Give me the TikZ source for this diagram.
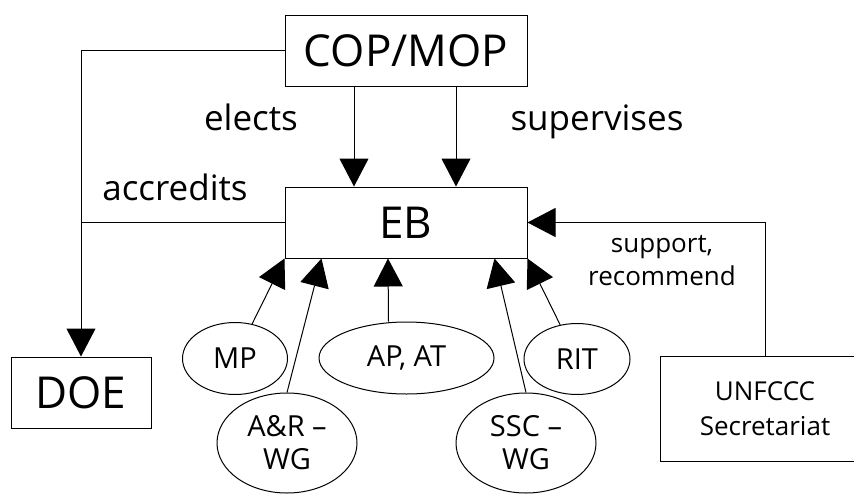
\documentclass[tikz,border=0pt]{standalone}
\usepackage{fontspec}
\setmainfont{Open Sans}
\usepackage{tikz}
\usetikzlibrary{shapes.geometric, arrows.meta, positioning}

\begin{document}
\begin{tikzpicture}[
    x=1pt, y=-1pt,
    box/.style={rectangle, draw, line width=1pt, inner sep=0pt, font=\fontsize{44}{50}\selectfont},
    smallbox/.style={rectangle, draw, line width=1pt, inner sep=0pt, align=center, font=\fontsize{26}{35}\selectfont},
    oval/.style={ellipse, draw, line width=1pt, inner sep=0pt, align=center, font=\fontsize{29}{33}\selectfont},
    lbl/.style={anchor=base, inner sep=0pt, font=\fontsize{35}{40}\selectfont},
    smalllbl/.style={anchor=base, inner sep=0pt, font=\fontsize{26}{33}\selectfont},
    arrow/.style={-{Triangle[length=28pt, width=29pt]}, line width=1pt},
    line/.style={line width=1pt}
]
\useasboundingbox (0,0) rectangle (854,493);

% Boxes
\node[box, minimum width=242pt, minimum height=71pt] (cop) at (406,50.5) {COP/MOP};
\node[box, minimum width=242pt, minimum height=71pt] (eb) at (406,222.5) {EB};
\node[box, minimum width=140pt, minimum height=71pt] (doe) at (81,392.5) {DOE};
\node[smallbox, minimum width=210pt, minimum height=105pt] (unfccc) at (765,408.5) {UNFCCC\\Secretariat};

% Panels
\node[oval, minimum width=105pt, minimum height=72pt] (mp) at (235,358.5) {MP};
\node[oval, minimum width=175pt, minimum height=72pt] (apat) at (406.5,358) {AP, AT};
\node[oval, minimum width=106pt, minimum height=71pt] (rit) at (577,359) {RIT};
\node[oval, minimum width=140pt, minimum height=100pt] (arwg) at (287,443) {A\&R --\\WG};
\node[oval, minimum width=140pt, minimum height=100pt] (sscwg) at (526,443) {SSC --\\WG};

% Labels
\node[lbl] (elects) at (251,130) {elects};
\node[lbl] (supervises) at (597,130) {supervises};
\node[lbl] (accredits) at (175,200) {accredits};
\node[smalllbl] (support) at (662,252) {support,};
\node[smalllbl] (recommend) at (662,285) {recommend};

% Connections
\draw[arrow] ([xshift=-52pt]cop.south) -- ([xshift=-52pt]eb.north);
\draw[arrow] ([xshift=50pt]cop.south) -- ([xshift=50pt]eb.north);
\draw[arrow] (cop.west) -| (doe.north);
\draw[line] (eb.west) -- (eb.west -| doe.north);
\draw[arrow] (unfccc.north) |- (eb.east);

\draw[arrow] (mp) -- (eb.south west);
\draw[arrow] (arwg.north) -- ([xshift=37pt]eb.south west);
\draw[arrow] ([xshift=-18pt]apat.north) -- ([xshift=-18pt]eb.south);
\draw[arrow] (sscwg.north) -- ([xshift=-33pt]eb.south east);
\draw[arrow] (rit) -- (eb.south east);

\end{tikzpicture}
\end{document}
